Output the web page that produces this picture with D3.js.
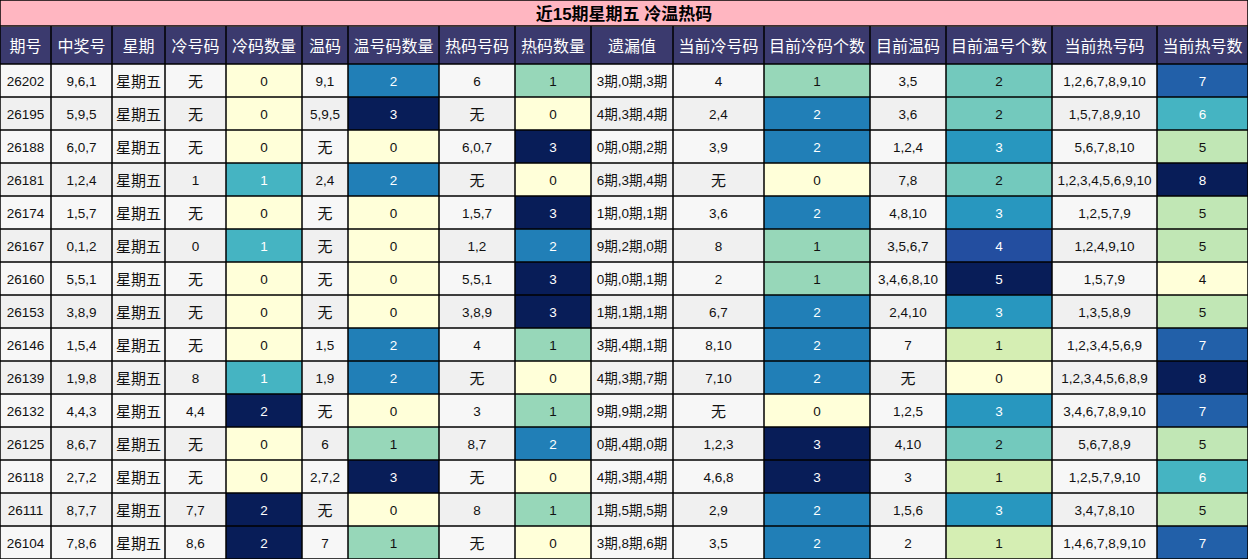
<!DOCTYPE html><html><head><meta charset="utf-8"><script src="https://cdn.jsdelivr.net/npm/d3@7"></script>
<style>body{margin:0;background:#fff}svg{display:block}</style></head><body><svg id="c" width="1248" height="559"></svg><script>
const title="近15期星期五 冷温热码";
const headers=["期号","中奖号","星期","冷号码","冷码数量","温码","温号码数量","热码号码","热码数量","遗漏值","当前冷号码","目前冷码个数","目前温码","目前温号个数","当前热号码","当前热号数"];
const colEdges=[0,51,112,165,226,302,348,439,515,591,673,764,870,946,1052,1157,1248];
const issues=["26202","26195","26188","26181","26174","26167","26160","26153","26146","26139","26132","26125","26118","26111","26104"];
const winning=["9,6,1","5,9,5","6,0,7","1,2,4","1,5,7","0,1,2","5,5,1","3,8,9","1,5,4","1,9,8","4,4,3","8,6,7","2,7,2","8,7,7","7,8,6"];
const coldCodes=["无","无","无","1","无","0","无","无","无","8","4,4","无","无","7,7","8,6"];
const coldCount=[0,0,0,1,0,1,0,0,0,1,2,0,0,2,2];
const warmCodes=["9,1","5,9,5","无","2,4","无","无","无","无","1,5","1,9","无","6","2,7,2","无","7"];
const warmCount=[2,3,0,2,0,0,0,0,2,2,0,1,3,0,1];
const hotCodes=["6","无","6,0,7","无","1,5,7","1,2","5,5,1","3,8,9","4","无","3","8,7","无","8","无"];
const hotCount=[1,0,3,0,3,2,3,3,1,0,1,2,0,1,0];
const missing=["3期,0期,3期","4期,3期,4期","0期,0期,2期","6期,3期,4期","1期,0期,1期","9期,2期,0期","0期,0期,1期","1期,1期,1期","3期,4期,1期","4期,3期,7期","9期,9期,2期","0期,4期,0期","4期,3期,4期","1期,5期,5期","3期,8期,6期"];
const curCold=["4","2,4","3,9","无","3,6","8","2","6,7","8,10","7,10","无","1,2,3","4,6,8","2,9","3,5"];
const curColdCount=[1,2,2,0,2,1,1,2,2,2,0,3,3,2,2];
const curWarm=["3,5","3,6","1,2,4","7,8","4,8,10","3,5,6,7","3,4,6,8,10","2,4,10","7","无","1,2,5","4,10","3","1,5,6","2"];
const curWarmCount=[2,2,3,2,3,4,5,3,1,0,3,2,1,3,1];
const curHot=["1,2,6,7,8,9,10","1,5,7,8,9,10","5,6,7,8,10","1,2,3,4,5,6,9,10","1,2,5,7,9","1,2,4,9,10","1,5,7,9","1,3,5,8,9","1,2,3,4,5,6,9","1,2,3,4,5,6,8,9","3,4,6,7,8,9,10","5,6,7,8,9","1,2,5,7,9,10","3,4,7,8,10","1,4,6,7,8,9,10"];
const curHotCount=[7,6,5,8,5,5,4,5,7,8,7,5,6,5,7];
const weekday=issues.map(()=> "星期五");
const cols=[issues,winning,weekday,coldCodes,coldCount,warmCodes,warmCount,hotCodes,hotCount,missing,curCold,curColdCount,curWarm,curWarmCount,curHot,curHotCount];
const heat={4:[0,2],6:[0,3],8:[0,3],11:[0,3],13:[0,5],15:[4,8]};
const svg=d3.select("#c");
const x=d3.scaleOrdinal().domain(d3.range(16)).range(colEdges.slice(0,16));
const W=i=>colEdges[i+1]-colEdges[i];
const y=d3.scaleBand().domain(d3.range(15)).range([64,559]);
const font="'Liberation Sans','Noto Sans CJK SC',sans-serif";
svg.append("rect").attr("x",0).attr("y",0).attr("width",1248).attr("height",26).attr("fill","#ffb6c1");
svg.append("text").attr("x",624).attr("y",14).attr("text-anchor","middle").attr("dominant-baseline","central").attr("font-family",font).attr("font-weight","bold").attr("font-size",17).text(title);
const hg=svg.selectAll("g.h").data(headers).join("g").attr("transform",(d,i)=>`translate(${x(i)},27)`);
hg.append("rect").attr("width",(d,i)=>W(i)).attr("height",37).attr("fill","#3b3a6e");
hg.append("text").attr("x",(d,i)=>W(i)/2).attr("y",19).attr("text-anchor","middle").attr("dominant-baseline","central").attr("fill","#fff").attr("font-family",font).attr("font-size",16).text(d=>d);
const cells=[];
cols.forEach((c,ci)=>c.forEach((v,ri)=>cells.push({ci,ri,v})));
const cg=svg.selectAll("g.c").data(cells).join("g").attr("transform",d=>`translate(${x(d.ci)},${y(d.ri)})`);
function tOf(d){const h=heat[d.ci];return h?(d.v-h[0])/(h[1]-h[0]):null;}
cg.append("rect").attr("width",d=>W(d.ci)).attr("height",y.bandwidth()).attr("fill",d=>{const t=tOf(d);return t===null?(d.ri%2?"#f0f0f0":"#f7f7f7"):d3.interpolateYlGnBu(t);});
cg.append("text").attr("x",d=>W(d.ci)/2).attr("y",y.bandwidth()/2+1).attr("text-anchor","middle").attr("dominant-baseline","central").attr("font-family",font).attr("font-size",d=>/[\u4e00-\u9fff]/.test(d.v)&&d.ci!==9?15:13.5).attr("fill",d=>{const t=tOf(d);return t!==null&&t>=0.5?"#fff":"#111";}).text(d=>d.v);
const lines=svg.append("g").attr("stroke","#000").attr("stroke-width",1.5);
colEdges.forEach(e=>lines.append("line").attr("x1",e).attr("x2",e).attr("y1",26).attr("y2",559));
[0,26,64].concat(d3.range(15).map(i=>y(i)+y.bandwidth())).forEach(v=>lines.append("line").attr("x1",0).attr("x2",1248).attr("y1",v).attr("y2",v));
lines.append("line").attr("x1",0).attr("x2",0).attr("y1",0).attr("y2",26);lines.append("line").attr("x1",1248).attr("x2",1248).attr("y1",0).attr("y2",26);
</script></body></html>
